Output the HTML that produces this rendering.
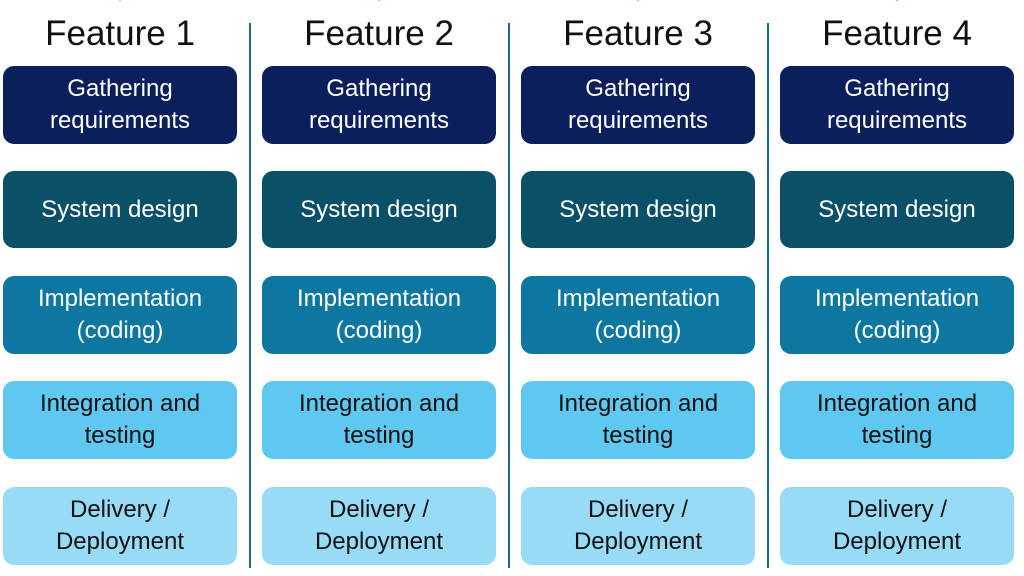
<!DOCTYPE html>
<html><head><style>
body{margin:0;width:1024px;height:576px;background:#fff;position:relative;font-family:"Liberation Sans",sans-serif;overflow:hidden}
.t{position:absolute;top:14px;width:234px;text-align:center;font-size:35px;color:#111}
.b{position:absolute;width:234px;border-radius:11px;display:flex;align-items:center;justify-content:center;text-align:center;font-size:24px;line-height:32px}
.d{position:absolute;top:23px;height:545px;width:2px;background:#1d6a8c}
.a{position:absolute;width:2px}
.a:after{content:"";position:absolute;bottom:-1px;left:-4px;border-left:5px solid transparent;border-right:5px solid transparent;border-top:7px solid;border-top-color:inherit}
</style></head><body>
<div id="c"></div>
<script>
var html='';
var ys=[[66,78],[171,77],[276,78],[381,78],[487,78]];
var cols=[['#0a1f5c','#fff'],['#0a5068','#fff'],['#0e77a0','#fff'],['#5ec8f0','#111'],['#98dbf6','#111']];
var txt=['Gathering<br>requirements','System design','Implementation<br>(coding)','Integration and<br>testing','Delivery /<br>Deployment'];
for(var c=0;c<4;c++){
 var x=3+c*259;
 html+='<div class="t" style="left:'+x+'px">Feature '+(c+1)+'</div>';
 for(var i=0;i<5;i++){
  html+='<div class="b" style="left:'+x+'px;top:'+ys[i][0]+'px;height:'+ys[i][1]+'px;background:'+cols[i][0]+';color:'+cols[i][1]+'">'+txt[i]+'</div>';
  if(i<4){var top=ys[i][0]+ys[i][1];var h=ys[i+1][0]-top;
   html+='<div class="a" style="left:'+(x+116)+'px;top:'+top+'px;height:'+h+'px;background:'+cols[i][0]+';border-top-color:'+cols[i][0]+';color:'+cols[i][0]+'"></div>';}
 }
 if(c<3)html+='<div class="d" style="left:'+(249+c*259)+'px"></div>';
}
document.getElementById('c').innerHTML=html;
</script>
</body></html>
